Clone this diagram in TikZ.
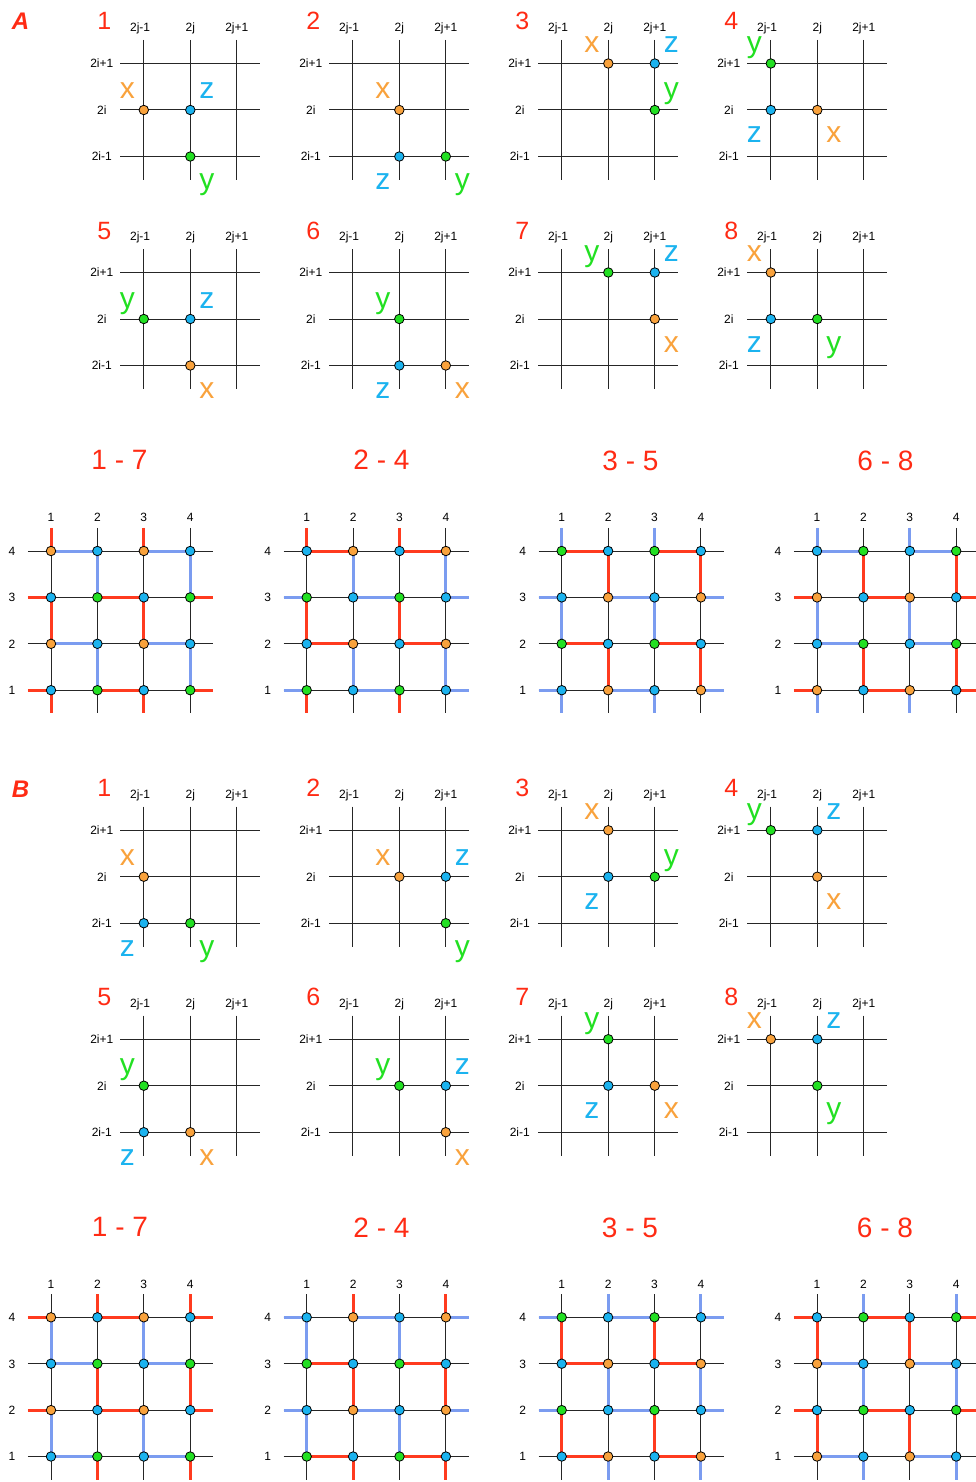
\documentclass[tikz,border=0pt]{standalone}
\usepackage{fontspec}
\setmainfont{Liberation Sans}
\definecolor{tred}{HTML}{FF2B14}
\definecolor{lred}{HTML}{FF3B1F}
\definecolor{lblue}{HTML}{7B9CF0}
\definecolor{dcx}{HTML}{F9A23C}
\definecolor{dcz}{HTML}{1BB3EF}
\definecolor{dcy}{HTML}{22E022}
\tikzset{
 gl/.style={draw=black!85,line width=1pt},
 segR/.style={draw=lred,line width=3pt},
 segB/.style={draw=lblue,line width=3pt},
 dot/.style={circle,draw=black,line width=0.8pt,inner sep=0pt,minimum size=9.5pt},
 lbl/.style={inner sep=0pt,font=\fontsize{30}{30}\selectfont,anchor=base},
 sm/.style={inner sep=0pt,font=\fontsize{12}{12}\selectfont,anchor=base},
 pnum/.style={inner sep=0pt,text=tred,font=\fontsize{25}{25}\selectfont,anchor=base},
 ttl/.style={inner sep=0pt,text=tred,font=\fontsize{28}{28}\selectfont,anchor=base},
 sec/.style={inner sep=0pt,text=tred,font=\fontsize{24}{24}\selectfont\bfseries\itshape,anchor=base},
}
\def\offU{-11}
\def\offL{33}
% small panel dot: id, kind, col, row, qx, U/L
\newcommand\pd[6]{%
  \node[dot,fill=dc#2] (#1-#2) at ({#3*46.5},{-(#4)*46.5}) {};
  \node[lbl,text=dc#2] (#1-#2l) at ({#3*46.5+#5*16.5},{-(#4)*46.5+\csname off#6\endcsname}) {#2};
}
% small panel: id, cx, cy, number, dots
\newcommand\spanel[5]{%
 \begin{scope}[shift={(#2,#3)}]
  \foreach \kk in {-1,0,1}{
    \draw[gl] ({\kk*46.5},-70) -- ({\kk*46.5},70);
    \draw[gl] (-70,{\kk*46.5}) -- (70,{\kk*46.5});
  }
  \node[sm] (#1-c1) at (-50.2,-78.3) {2j-1};
  \node[sm] (#1-c2) at (0,-78.3) {2j};
  \node[sm] (#1-c3) at (46.5,-78.3) {2j+1};
  \node[sm] (#1-r1) at (-88.5,-42.2) {2i+1};
  \node[sm] (#1-r2) at (-88.5,4.3) {2i};
  \node[sm] (#1-r3) at (-88.5,50.8) {2i-1};
  \node[pnum] (#1-n) at (-86,-80) {#4};
  #5
 \end{scope}}
\newcommand\setnodecols[4]{\def\nEO{#1}\def\nEE{#2}\def\nOO{#3}\def\nOE{#4}}
\newcommand\hsI[3]{\draw[seg#3] (#1-1-#2) -- (#1-2-#2) (#1-3-#2) -- (#1-4-#2);}
\newcommand\hsO[3]{\draw[seg#3] (#1-W-#2) -- (#1-1-#2) (#1-2-#2) -- (#1-3-#2) (#1-4-#2) -- (#1-E-#2);}
\newcommand\vsI[3]{\draw[seg#3] (#1-#2-4) -- (#1-#2-3) (#1-#2-2) -- (#1-#2-1);}
\newcommand\vsO[3]{\draw[seg#3] (#1-N-#2) -- (#1-#2-4) (#1-#2-3) -- (#1-#2-2) (#1-#2-1) -- (#1-S-#2);}
% big grid: id, x0, y0, section, rowEven col, rowOdd col, colOdd col, colEven col
\newcommand\biggrid[8]{%
  \foreach \ii in {1,...,4}{\foreach \jj in {1,...,4}{
     \coordinate (#1-\ii-\jj) at ({#2+(\ii-1)*46.4},{#3+(4-\jj)*46.4});}}
  \foreach \jj in {1,...,4}{
     \coordinate (#1-W-\jj) at ({#2-23.2},{#3+(4-\jj)*46.4});
     \coordinate (#1-E-\jj) at ({#2+162.4},{#3+(4-\jj)*46.4});
     \node[sm] (#1-rl-\jj) at ({#2-39},{#3+(4-\jj)*46.4+4.3}) {\jj};}
  \foreach \ii in {1,...,4}{
     \coordinate (#1-N-\ii) at ({#2+(\ii-1)*46.4},{#3-23.2});
     \coordinate (#1-S-\ii) at ({#2+(\ii-1)*46.4},{#3+162.4});
     \node[sm] (#1-cl-\ii) at ({#2+(\ii-1)*46.4},{#3-29.3}) {\ii};}
  \foreach \jj in {1,...,4} \draw[gl] (#1-W-\jj) -- (#1-E-\jj);
  \foreach \ii in {1,...,4} \draw[gl] (#1-N-\ii) -- (#1-S-\ii);
  \if#4A
    \hsI{#1}{4}{#5}\hsI{#1}{2}{#5}\hsO{#1}{3}{#6}\hsO{#1}{1}{#6}
    \vsO{#1}{1}{#7}\vsO{#1}{3}{#7}\vsI{#1}{2}{#8}\vsI{#1}{4}{#8}
  \else
    \hsO{#1}{4}{#5}\hsO{#1}{2}{#5}\hsI{#1}{3}{#6}\hsI{#1}{1}{#6}
    \vsI{#1}{1}{#7}\vsI{#1}{3}{#7}\vsO{#1}{2}{#8}\vsO{#1}{4}{#8}
  \fi
  \foreach \ii in {1,...,4}{\foreach \jj in {1,...,4}{
    \ifodd\jj \ifodd\ii \edef\dotcol{\nOO}\else\edef\dotcol{\nOE}\fi
    \else \ifodd\ii \edef\dotcol{\nEO}\else\edef\dotcol{\nEE}\fi \fi
    \node[dot,fill=dc\dotcol] (#1-n-\ii-\jj) at (#1-\ii-\jj) {};
  }}
}
\begin{document}
\begin{tikzpicture}[x=1pt,y=-1pt]
\fill[white] (0,0) rectangle (976,1482);
\useasboundingbox (0,0) rectangle (976,1482);

\node[sec] (secA) at (20.5,30) {A};
\node[sec] (secB) at (20.5,797) {B};

% ---- section A small panels
\spanel{a1}{190.3}{110}{1}{\pd{a1}{x}{-1}{0}{-1}{U}\pd{a1}{z}{0}{0}{1}{U}\pd{a1}{y}{0}{-1}{1}{L}}
\spanel{a2}{399.3}{110}{2}{\pd{a2}{x}{0}{0}{-1}{U}\pd{a2}{z}{0}{-1}{-1}{L}\pd{a2}{y}{1}{-1}{1}{L}}
\spanel{a3}{608.3}{110}{3}{\pd{a3}{x}{0}{1}{-1}{U}\pd{a3}{z}{1}{1}{1}{U}\pd{a3}{y}{1}{0}{1}{U}}
\spanel{a4}{817.3}{110}{4}{\pd{a4}{y}{-1}{1}{-1}{U}\pd{a4}{z}{-1}{0}{-1}{L}\pd{a4}{x}{0}{0}{1}{L}}
\spanel{a5}{190.3}{319}{5}{\pd{a5}{y}{-1}{0}{-1}{U}\pd{a5}{z}{0}{0}{1}{U}\pd{a5}{x}{0}{-1}{1}{L}}
\spanel{a6}{399.3}{319}{6}{\pd{a6}{y}{0}{0}{-1}{U}\pd{a6}{z}{0}{-1}{-1}{L}\pd{a6}{x}{1}{-1}{1}{L}}
\spanel{a7}{608.3}{319}{7}{\pd{a7}{y}{0}{1}{-1}{U}\pd{a7}{z}{1}{1}{1}{U}\pd{a7}{x}{1}{0}{1}{L}}
\spanel{a8}{817.3}{319}{8}{\pd{a8}{x}{-1}{1}{-1}{U}\pd{a8}{z}{-1}{0}{-1}{L}\pd{a8}{y}{0}{0}{1}{L}}

% ---- section B small panels
\spanel{b1}{190.3}{876.7}{1}{\pd{b1}{x}{-1}{0}{-1}{U}\pd{b1}{z}{-1}{-1}{-1}{L}\pd{b1}{y}{0}{-1}{1}{L}}
\spanel{b2}{399.3}{876.7}{2}{\pd{b2}{x}{0}{0}{-1}{U}\pd{b2}{z}{1}{0}{1}{U}\pd{b2}{y}{1}{-1}{1}{L}}
\spanel{b3}{608.3}{876.7}{3}{\pd{b3}{x}{0}{1}{-1}{U}\pd{b3}{z}{0}{0}{-1}{L}\pd{b3}{y}{1}{0}{1}{U}}
\spanel{b4}{817.3}{876.7}{4}{\pd{b4}{y}{-1}{1}{-1}{U}\pd{b4}{z}{0}{1}{1}{U}\pd{b4}{x}{0}{0}{1}{L}}
\spanel{b5}{190.3}{1085.7}{5}{\pd{b5}{y}{-1}{0}{-1}{U}\pd{b5}{z}{-1}{-1}{-1}{L}\pd{b5}{x}{0}{-1}{1}{L}}
\spanel{b6}{399.3}{1085.7}{6}{\pd{b6}{y}{0}{0}{-1}{U}\pd{b6}{z}{1}{0}{1}{U}\pd{b6}{x}{1}{-1}{1}{L}}
\spanel{b7}{608.3}{1085.7}{7}{\pd{b7}{y}{0}{1}{-1}{U}\pd{b7}{z}{0}{0}{-1}{L}\pd{b7}{x}{1}{0}{1}{L}}
\spanel{b8}{817.3}{1085.7}{8}{\pd{b8}{x}{-1}{1}{-1}{U}\pd{b8}{z}{0}{1}{1}{U}\pd{b8}{y}{0}{0}{1}{L}}

% ---- titles
\node[ttl] (ta1) at (119.5,469.5) {1 - 7};
\node[ttl] (ta2) at (381.5,469.5) {2 - 4};
\node[ttl] (ta3) at (630.5,470.5) {3 - 5};
\node[ttl] (ta4) at (885.5,470) {6 - 8};
\node[ttl] (tb1) at (120,1236) {1 - 7};
\node[ttl] (tb2) at (381.5,1237) {2 - 4};
\node[ttl] (tb3) at (630,1237.5) {3 - 5};
\node[ttl] (tb4) at (885,1237) {6 - 8};

% ---- big grids
\setnodecols{x}{z}{z}{y}
\biggrid{ga1}{51}{551}{A}{B}{R}{R}{B}
\biggrid{gb1}{51}{1317.3}{B}{R}{B}{B}{R}
\setnodecols{z}{x}{y}{z}
\biggrid{ga2}{306.7}{551}{A}{R}{B}{R}{B}
\biggrid{gb2}{306.7}{1317.3}{B}{B}{R}{B}{R}
\setnodecols{y}{z}{z}{x}
\biggrid{ga3}{561.7}{551}{A}{R}{B}{B}{R}
\biggrid{gb3}{561.7}{1317.3}{B}{B}{R}{R}{B}
\setnodecols{z}{y}{x}{z}
\biggrid{ga4}{817}{551}{A}{B}{R}{B}{R}
\biggrid{gb4}{817}{1317.3}{B}{R}{B}{R}{B}
\end{tikzpicture}
\end{document}
